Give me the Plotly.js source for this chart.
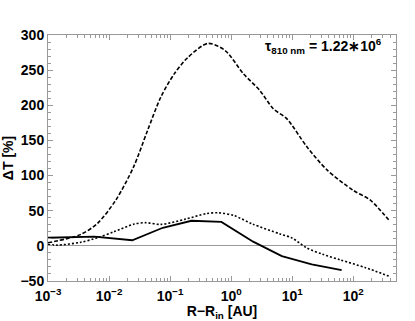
<!DOCTYPE html>
<html>
<head>
<meta charset="utf-8">
<script src="https://cdn.plot.ly/plotly-3.0.1.min.js"></script>
<style>html,body{margin:0;padding:0;background:#fff;}#chart{width:415px;height:321px;}</style>
</head>
<body>
<div id="chart"></div>
<script>
// log10(R - R_in) values and ΔT [%]
const dashedLogR = [-3.0, -2.47, -2.19, -1.89, -1.60, -1.37, -1.15, -0.93, -0.71, -0.38, -0.10, 0.20, 0.47, 0.69, 0.91, 1.24, 1.57, 2.00, 2.28, 2.58];
const dashedDT   = [4.4, 16, 32, 65, 112, 164, 212, 245, 268, 288, 278, 245, 221, 195, 181, 141, 108, 79, 65, 37];

const dottedLogR = [-3.0, -2.85, -2.47, -2.19, -1.92, -1.59, -1.40, -1.15, -0.75, -0.40, -0.20, 0.05, 0.35, 0.80, 1.00, 1.24, 1.50, 1.79, 2.20, 2.58];
const dottedDT   = [2, 1, 5, 11.5, 20, 31, 33, 30.5, 38, 46, 47, 43, 31, 17, 11, -3, -12, -20, -31, -43];

const solidLogR = [-3.0, -2.24, -1.62, -1.12, -0.65, -0.16, 0.36, 0.83, 1.32, 1.81];
const solidDT   = [11.5, 13, 8, 25.7, 35.7, 34, 6, -14.5, -26.3, -34.4];

const xTickExp = [-3, -2, -1, 0, 1, 2];
const yTicks = [-50, 0, 50, 100, 150, 200, 250, 300];
const annotationText = 'τ<sub>810 nm</sub> = 1.22∗10<sup>6</sup>';

const toR = a => a.map(v => Math.pow(10, v));

const traces = [
  {x: toR(dashedLogR), y: dashedDT, mode: 'lines', line: {color: '#000', width: 1.6, dash: '4px,2px', shape: 'spline', smoothing: 0.8}, hoverinfo: 'skip'},
  {x: toR(dottedLogR), y: dottedDT, mode: 'lines', line: {color: '#000', width: 1.6, dash: '2px,2px', shape: 'spline', smoothing: 0.8}, hoverinfo: 'skip'},
  {x: toR(solidLogR), y: solidDT, mode: 'lines', line: {color: '#000', width: 1.8}, hoverinfo: 'skip'}
];

const fam = 'Liberation Sans, Arial, sans-serif';
const tickFont = {family: fam, size: 14, color: '#000', weight: 'bold'};

const layout = {
  width: 415, height: 321,
  margin: {l: 48, r: 19, t: 35, b: 40},
  paper_bgcolor: '#fff', plot_bgcolor: '#fff',
  showlegend: false,
  xaxis: {
    type: 'log', range: [-3.0, 2.7],
    tickvals: xTickExp.map(e => Math.pow(10, e)),
    ticktext: xTickExp.map(e => '10<sup>' + (e < 0 ? '−' + Math.abs(e) : e) + '</sup>'),
    showgrid: false, zeroline: false,
    showline: true, linecolor: '#999', linewidth: 1, mirror: 'ticks',
    ticks: 'inside', ticklen: 5, tickcolor: '#999', tickwidth: 1,
    ticklabelstandoff: 2,
    minor: {ticks: 'inside', ticklen: 3, tickcolor: '#999', tickwidth: 1, dtick: 'D1', showgrid: false},
    tickfont: tickFont,
    title: {text: 'R−R<sub>in</sub> [AU]', font: {family: fam, size: 14, color: '#000', weight: 'bold'}, standoff: 0}
  },
  yaxis: {
    range: [-50, 300], tickvals: yTicks, ticktext: yTicks.map(v => v < 0 ? '−' + Math.abs(v) : String(v)),
    showgrid: false, zeroline: true, zerolinecolor: '#999', zerolinewidth: 1,
    showline: true, linecolor: '#999', linewidth: 1, mirror: 'ticks',
    ticks: 'inside', ticklen: 5, tickcolor: '#999', tickwidth: 1,
    minor: {ticks: 'inside', ticklen: 3, tickcolor: '#999', tickwidth: 1, dtick: 10, showgrid: false},
    tickfont: tickFont,
    title: {text: 'ΔT [%]', font: {family: fam, size: 14, color: '#000', weight: 'bold'}, standoff: 4}
  },
  annotations: [{
    xref: 'paper', yref: 'paper', x: 0.965, y: 0.955, xanchor: 'right', yanchor: 'middle',
    text: annotationText, showarrow: false,
    font: {family: fam, size: 14, color: '#000', weight: 'bold'}
  }]
};

Plotly.newPlot('chart', traces, layout, {displayModeBar: false, staticPlot: true});
</script>
</body>
</html>
